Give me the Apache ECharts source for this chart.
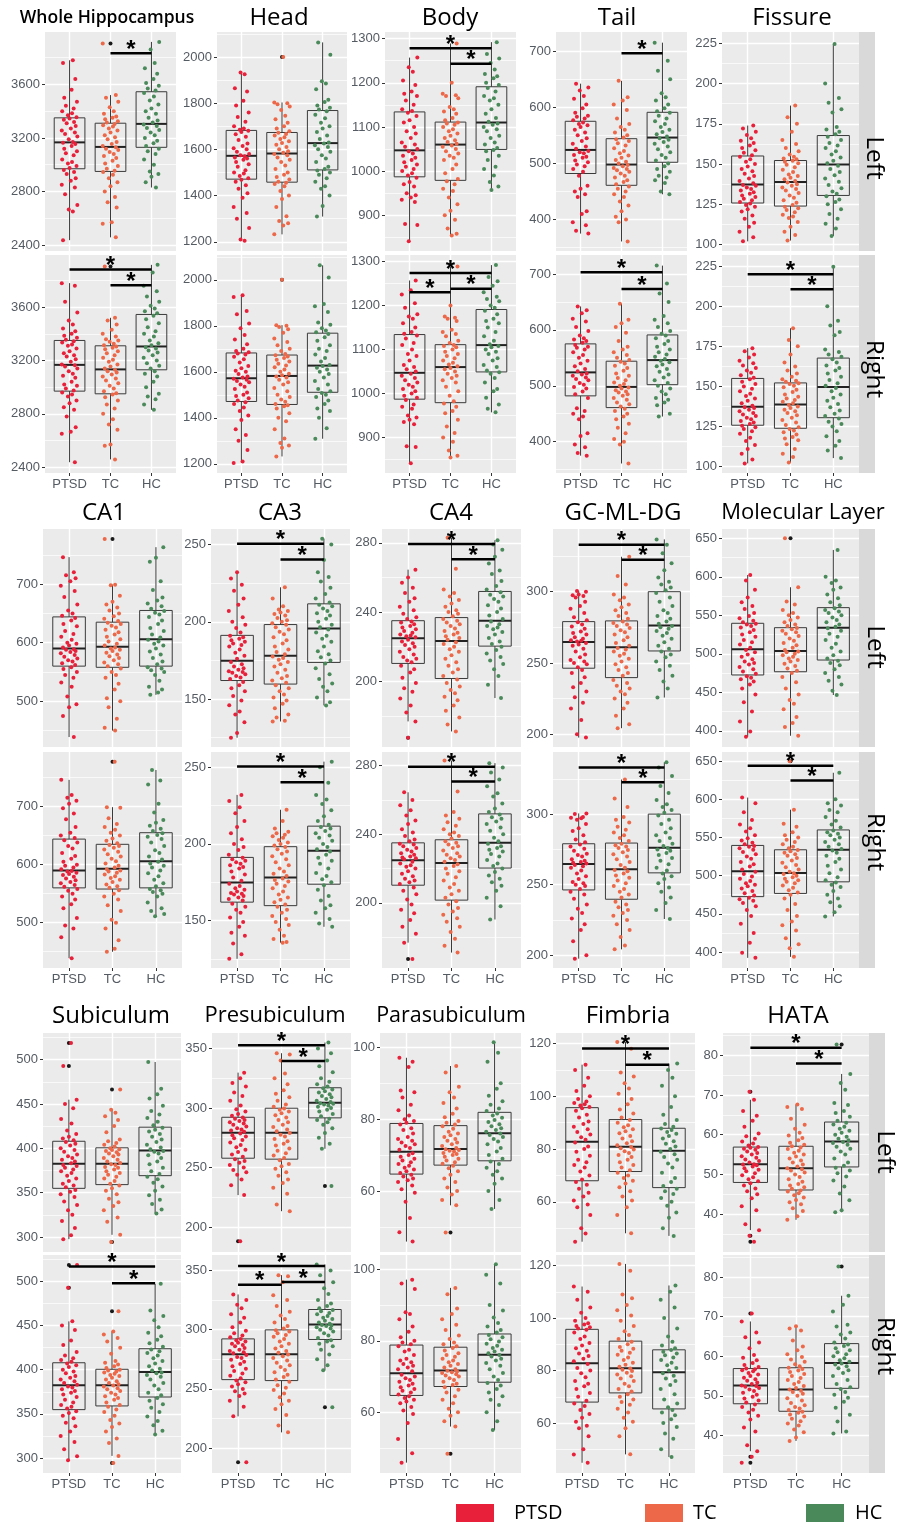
<!DOCTYPE html>
<html>
<head lang="en">
<meta http-equiv="Content-Type" content="text/html; charset=UTF-8">
<script src="https://cdn.jsdelivr.net/npm/echarts@6.0.0/dist/echarts.min.js"></script>
<style>
html, body { margin: 0; padding: 0; background: #fff; }
#chart { width: 907px; height: 1524px; }
</style>
</head>
<body>
<div id="chart"></div>
<script>
/**======= groups =======**/
var groups = ['PTSD', 'TC', 'HC'];
var groupColors = ['#E8203A', '#EC6848', '#4A8A5A'];

/**======= Whole Hippocampus =======**/
var wholeBox = [[2437, 2970, 3167, 3350, 3780], [2458, 2950, 3133, 3310, 3520], [2830, 3130, 3305, 3545, 3917]];
var wholePTSD = [2437, 2650, 2665, 2700, 2780, 2830, 2850, 2880, 2900, 2930, 2945, 2960, 2975, 2990, 3010, 3020, 3040, 3070, 3085, 3100, 3120, 3140, 3155, 3165,
  3170, 3190, 3210, 3230, 3240, 3255, 3270, 3290, 3310, 3320, 3335, 3345, 3355, 3370, 3385, 3400, 3420, 3440, 3470, 3500, 3560, 3640, 3760, 3780];
var wholeTC = [2458, 2560, 2570, 2680, 2720, 2760, 2800, 2840, 2870, 2900, 2925, 2945, 2955, 2970, 2990, 3010, 3030, 3050, 3065, 3080, 3095, 3110, 3120, 3130,
  3140, 3155, 3170, 3190, 3205, 3220, 3240, 3255, 3270, 3285, 3295, 3305, 3315, 3325, 3340, 3350, 3360, 3380, 3400, 3430, 3470, 3500, 3520, 3905];
var wholeHC = [2830, 2870, 2910, 2930, 2950, 3000, 3040, 3080, 3100, 3120, 3140, 3160, 3180, 3200, 3220, 3240, 3260, 3275, 3290, 3300,
  3315, 3330, 3350, 3380, 3400, 3420, 3450, 3480, 3510, 3535, 3555, 3570, 3590, 3610, 3640, 3680, 3720, 3760, 3860, 3917];
var wholeOut = [[2, 3905]];
var wholeRange = [2356, 3991];
var wholeTicks = [2400, 2800, 3200, 3600];
var wholeSigL = [[2, 3, 3833]];
var wholeSigR = [[1, 3, 3883], [2, 3, 3765]];

/**======= Head =======**/
var headBox = [[1204, 1471, 1572, 1682, 1933], [1232, 1458, 1582, 1673, 1803], [1309, 1511, 1627, 1768, 2063]];
var headPTSD = [1204, 1210, 1260, 1300, 1325, 1350, 1390, 1410, 1430, 1445, 1460, 1468, 1475, 1485, 1495, 1500, 1510, 1525, 1535, 1545, 1555, 1560, 1565, 1570,
  1575, 1580, 1590, 1600, 1605, 1615, 1625, 1640, 1655, 1665, 1675, 1680, 1685, 1690, 1700, 1720, 1740, 1760, 1790, 1810, 1850, 1865, 1925, 1933];
var headTC = [1232, 1270, 1280, 1290, 1310, 1350, 1385, 1400, 1420, 1440, 1450, 1455, 1460, 1470, 1480, 1490, 1500, 1515, 1530, 1545, 1555, 1565, 1575, 1580,
  1585, 1592, 1600, 1610, 1620, 1628, 1635, 1645, 1652, 1660, 1667, 1672, 1678, 1690, 1700, 1715, 1730, 1745, 1770, 1785, 1795, 1800, 1803, 2000];
var headHC = [1309, 1355, 1400, 1430, 1440, 1460, 1475, 1490, 1500, 1508, 1515, 1525, 1545, 1560, 1575, 1590, 1600, 1610, 1618, 1625,
  1630, 1645, 1660, 1675, 1690, 1700, 1715, 1735, 1750, 1765, 1772, 1780, 1790, 1805, 1815, 1860, 1885, 1895, 2010, 2063];
var headOut = [[2, 2000]];
var headRange = [1160, 2108];
var headTicks = [1200, 1400, 1600, 1800, 2000];
var headSigL = [];
var headSigR = [];

/**======= Body =======**/
var bodyBox = [[841, 987, 1047, 1134, 1257], [854, 979, 1060, 1111, 1289], [957, 1049, 1110, 1191, 1292]];
var bodyPTSD = [841, 878, 880, 930, 935, 940, 945, 950, 965, 970, 975, 985, 990, 995, 1000, 1005, 1010, 1015, 1020, 1025, 1030, 1035, 1040, 1045,
  1050, 1055, 1060, 1065, 1075, 1085, 1090, 1100, 1110, 1115, 1125, 1132, 1136, 1140, 1150, 1160, 1170, 1175, 1180, 1195, 1205, 1225, 1235, 1257];
var bodyTC = [854, 858, 870, 890, 900, 910, 925, 940, 955, 960, 970, 977, 982, 995, 1005, 1015, 1025, 1030, 1035, 1040, 1045, 1050, 1055, 1058,
  1062, 1066, 1070, 1075, 1080, 1085, 1090, 1095, 1100, 1105, 1108, 1110, 1115, 1120, 1130, 1135, 1140, 1145, 1165, 1170, 1172, 1175, 1200, 1289];
var bodyHC = [957, 965, 975, 990, 1005, 1010, 1025, 1035, 1045, 1048, 1052, 1060, 1065, 1075, 1080, 1090, 1095, 1100, 1105, 1108,
  1112, 1120, 1130, 1140, 1150, 1160, 1165, 1170, 1180, 1188, 1195, 1200, 1210, 1215, 1220, 1230, 1245, 1255, 1265, 1292];
var bodyOut = [];
var bodyRange = [819, 1315];
var bodyTicks = [900, 1000, 1100, 1200, 1300];
var bodySigL = [[1, 3, 1278], [2, 3, 1243]];
var bodySigR = [[1, 3, 1274], [1, 2, 1230], [2, 3, 1238]];

/**======= Tail =======**/
var tailBox = [[375, 482, 524, 575, 642], [361, 461, 498, 544, 647], [445, 502, 546, 591, 715]];
var tailPTSD = [375, 380, 390, 395, 410, 415, 440, 445, 450, 455, 460, 478, 485, 490, 495, 498, 502, 505, 510, 512, 515, 518, 520, 522,
  526, 530, 535, 540, 545, 550, 555, 560, 565, 568, 570, 573, 577, 580, 583, 585, 590, 598, 605, 615, 620, 630, 635, 642];
var tailTC = [361, 395, 400, 405, 415, 425, 432, 440, 445, 450, 455, 459, 463, 467, 470, 475, 478, 482, 485, 488, 490, 492, 495, 497,
  500, 503, 506, 510, 514, 518, 522, 527, 532, 536, 540, 543, 546, 550, 555, 560, 565, 570, 580, 595, 605, 612, 618, 647];
var tailHC = [445, 450, 465, 470, 475, 478, 485, 490, 495, 500, 505, 510, 515, 520, 525, 530, 535, 538, 542, 545,
  548, 552, 556, 560, 565, 570, 575, 580, 585, 590, 593, 598, 605, 612, 618, 625, 650, 665, 683, 715];
var tailOut = [];
var tailRange = [344, 734];
var tailTicks = [400, 500, 600, 700];
var tailSigL = [[2, 3, 696]];
var tailSigR = [[1, 3, 703], [2, 3, 673]];

/**======= Fissure =======**/
var fissureBox = [[102, 125.8, 137.3, 155, 173.9], [102.5, 123.9, 138.8, 152.2, 186.3], [105.3, 130.5, 149.7, 167.7, 224.6]];
var fissurePTSD = [102, 104.5, 108, 111, 113.5, 116, 118, 120.5, 122, 123.5, 124.5, 125.5, 126.5, 127.5, 128.5, 129.5, 130.5, 131.5, 132.5, 133.5, 134.5, 135.5, 136.5, 137,
  138, 139.5, 141, 142.5, 144, 145.5, 147, 148.5, 150, 151.5, 153, 154.5, 155.5, 157, 158.5, 160, 161.5, 163, 164.5, 166, 168, 170, 172, 173.9];
var fissureTC = [102.5, 106, 108, 111, 114, 116.5, 117.5, 118.5, 120, 121.5, 122.5, 123.5, 124.5, 126, 127.5, 129, 130.5, 132, 133.5, 134.5, 135.5, 136.5, 137.5, 138.5,
  139.5, 140.5, 141.5, 142.5, 143.5, 145, 146.5, 148, 149.5, 150.5, 151.5, 152, 153, 153.5, 154.5, 156, 158, 160, 162.5, 165, 170, 175, 179, 186.3];
var fissureHC = [105.3, 110, 113, 116, 119, 122, 125, 126.5, 128, 130, 131.5, 133, 135, 137, 139, 141, 143, 145, 147, 149,
  150.5, 152, 154, 156, 158, 160, 161.5, 163, 165, 167, 168.5, 170, 171.5, 173, 182, 184, 188, 191, 200, 224.6];
var fissureOut = [];
var fissureRange = [96, 232];
var fissureTicks = [100, 125, 150, 175, 200, 225];
var fissureSigL = [];
var fissureSigR = [[1, 3, 220], [2, 3, 210.7]];

/**======= CA1 =======**/
var ca1Box = [[439, 560, 590, 644, 746], [450, 558, 593, 635, 699], [511, 560, 606, 655, 763]];
var ca1PTSD = [439, 475, 490, 495, 508, 525, 532, 540, 545, 550, 555, 558, 562, 565, 568, 570, 573, 576, 579, 582, 584, 586, 588, 589,
  592, 595, 598, 600, 605, 610, 615, 620, 628, 632, 638, 642, 646, 650, 655, 665, 678, 688, 697, 705, 710, 715, 720, 746];
var ca1TC = [450, 455, 470, 490, 500, 505, 520, 530, 540, 545, 550, 556, 560, 563, 566, 570, 574, 577, 580, 583, 586, 588, 590, 592,
  595, 598, 602, 606, 610, 614, 618, 622, 626, 629, 632, 634, 637, 641, 645, 650, 655, 660, 665, 670, 680, 698, 699, 777];
var ca1HC = [511, 515, 520, 525, 535, 545, 550, 553, 556, 558, 563, 568, 574, 580, 585, 590, 595, 598, 602, 605,
  609, 614, 620, 625, 632, 638, 644, 648, 651, 654, 658, 662, 667, 672, 677, 690, 705, 738, 745, 763];
var ca1Out = [[2, 777]];
var ca1Range = [422, 794];
var ca1Ticks = [500, 600, 700];
var ca1SigL = [];
var ca1SigR = [];

/**======= CA3 =======**/
var ca3Box = [[125, 162, 174.8, 191.2, 232], [135.5, 159.7, 178, 198.2, 222.3], [145.9, 173.7, 195.6, 211.6, 253.7]];
var ca3PTSD = [125, 128, 135, 140, 142, 146, 149, 152, 155, 157, 159, 161, 163, 164, 165, 166, 167, 167.5, 168, 169, 170, 171, 172.5, 174,
  176, 178, 180, 182, 184, 185, 186, 187, 188, 189, 190, 191, 193, 196, 198, 200, 203, 207, 211, 215, 220, 224, 228, 232];
var ca3TC = [135.5, 136, 138, 140, 144, 147, 149, 151, 153, 155, 157, 159, 160.5, 162, 163.5, 165, 167, 169, 171, 172.5, 174, 175.5, 176.5, 177.5,
  179, 180.5, 182, 184, 186, 188, 190, 192, 193.5, 195, 196.5, 198, 199, 200, 201, 202.5, 204, 205, 206, 207, 208, 210, 215, 222.3];
var ca3HC = [145.9, 148, 151, 155, 158, 160, 163, 166, 170, 173, 175, 177, 179, 181, 184, 187, 189, 191, 193, 195,
  196.5, 198, 200, 202, 204, 205.5, 207, 208.5, 210, 211, 212.5, 215, 218, 222, 226, 229, 232, 240, 250, 253.7];
var ca3Out = [];
var ca3Range = [119, 260];
var ca3Ticks = [150, 200, 250];
var ca3SigL = [[1, 3, 250.5], [2, 3, 240.3]];
var ca3SigR = [[1, 3, 250.5], [2, 3, 240.3]];

/**======= CA4 =======**/
var ca4Box = [[176.8, 210.3, 224.8, 235, 264.5], [171, 201.6, 223.2, 236.8, 283], [190.3, 220.3, 235, 251.9, 281.5]];
var ca4PTSD = [167.3, 176.8, 182, 186, 190, 194, 196, 199, 202, 205, 207, 209, 211, 212, 213, 214, 215.5, 217, 218.5, 220, 221, 222, 223, 224,
  225.5, 226, 226.5, 227, 228, 229, 230, 231, 232, 233, 234, 234.5, 236, 237, 239, 241, 243, 246, 248, 251, 254, 257, 260, 264.5];
var ca4TC = [171, 175, 179, 183, 186, 189, 191, 193, 195, 197, 199, 201, 203, 205, 207, 209, 211, 213, 215, 217, 218.5, 220, 221.5, 222.5,
  224, 225, 226, 227, 228, 229, 230.5, 232, 233, 234, 235, 236, 237.5, 239, 240, 241, 243, 245, 247, 249, 251, 253, 265, 283];
var ca4HC = [190.3, 198, 203, 207, 210, 212, 214, 216, 218, 220, 221.5, 223, 225, 227, 228.5, 230, 231, 232, 233, 234.5,
  236, 238, 240, 242, 244, 246, 247.5, 249, 250, 251.5, 253, 255, 258, 262, 264, 268, 272, 276, 279, 281.5];
var ca4Out = [[1, 167.3]];
var ca4Range = [162, 288];
var ca4Ticks = [200, 240, 280];
var ca4SigL = [[1, 3, 279.4], [2, 3, 270.5]];
var ca4SigR = [[1, 3, 279.4], [2, 3, 270.8]];

/**======= GC-ML-DG =======**/
var gcBox = [[197.6, 246.3, 264.7, 279, 300.5], [204.2, 239.7, 261, 279.5, 324.5], [225.7, 258.4, 276.2, 300, 336.7]];
var gcPTSD = [197.6, 200, 210, 218, 222, 226, 230, 233, 236, 240, 243, 245, 247, 249, 250, 251, 252, 254, 256, 258, 260, 262, 263, 264,
  265, 265.5, 266, 267, 268, 270, 271, 272, 274, 275.5, 277, 278.5, 280, 282, 285, 288, 290, 293, 296, 297, 297.5, 298, 300, 300.5];
var gcTC = [204.2, 207, 213, 218, 222, 225, 228, 230, 232, 234, 236, 238, 241, 243, 245, 247, 249, 251, 253, 255, 256.5, 258, 259.5, 260.5,
  262, 264, 266, 268, 270, 271.5, 273, 274.5, 276, 277, 278, 279, 281, 283, 285, 287, 289, 291, 294, 296, 298, 305, 311, 324.5];
var gcHC = [225.7, 232, 237, 241, 245, 248, 251, 254, 256, 258, 260, 262, 264.5, 267, 269, 271, 272.5, 274, 275, 276,
  277.5, 279, 281, 283, 285, 287, 290, 293, 296, 299, 301, 303, 305, 307, 310, 315, 320, 327, 333, 336.7];
var gcOut = [];
var gcRange = [191, 344];
var gcTicks = [200, 250, 300];
var gcSigL = [[1, 3, 333], [2, 3, 322.5]];
var gcSigR = [[1, 3, 333], [2, 3, 322.5]];

/**======= Molecular Layer =======**/
var molBox = [[392.3, 472.5, 505.8, 539.6, 602.3], [393.6, 476.7, 503.6, 533.9, 586.4], [446.5, 491.9, 533.9, 559.9, 634.8]];
var molPTSD = [392.3, 399, 412, 425, 437, 447, 455, 460, 464, 467, 469, 471, 474, 477, 480, 483, 486, 488, 490, 493, 496, 499, 502, 505,
  508, 512, 515, 518, 522, 525, 528, 531, 534, 536, 538, 539, 541, 543, 546, 549, 553, 558, 562, 567, 573, 583, 595, 602.3];
var molTC = [393.6, 405, 410, 418, 428, 435, 440, 447, 455, 463, 470, 475, 478, 481, 484, 487, 490, 492, 494, 496, 498, 500, 502, 503,
  505, 508, 511, 514, 517, 520, 523, 526, 528, 530, 532, 533.5, 536, 538, 541, 544, 547, 550, 553, 557, 564, 568, 586.4, 650];
var molHC = [446.5, 452, 460, 465, 470, 475, 480, 485, 488, 491, 494, 498, 503, 508, 513, 518, 522, 526, 530, 533,
  535, 538, 541, 544, 547, 550, 553, 555, 557, 559, 563, 567, 572, 577, 583, 586, 592, 595, 600, 634.8];
var molOut = [[2, 650]];
var molRange = [379, 662];
var molTicks = [400, 450, 500, 550, 600, 650];
var molSigL = [];
var molSigR = [[1, 3, 644], [2, 3, 624.6]];

/**======= Subiculum =======**/
var subBox = [[297.5, 354.8, 382.4, 407.9, 454.8], [302.4, 359, 382.4, 400.5, 443.4], [326.5, 369.1, 397.4, 423.8, 497.3]];
var subPTSD = [297.5, 302, 310, 318, 325, 330, 336, 340, 345, 348, 351, 353, 356, 358, 360, 363, 366, 369, 372, 374, 376, 378, 380, 381,
  383, 385, 387, 389, 391, 393, 396, 398, 400, 403, 405, 407, 409, 411, 413, 416, 420, 428, 433, 445, 450, 454.8, 492.8, 518.8];
var subTC = [294.4, 302.4, 317, 322, 330, 335, 339, 343, 348, 352, 355, 358, 360, 363, 366, 368, 370, 372, 374, 376, 378, 379, 381, 382,
  383.5, 385, 387, 389, 391, 393, 394, 395.5, 397, 398, 399, 400, 402, 404, 406, 408, 410, 418, 425, 432, 436, 440, 443.4, 466.4];
var subHC = [326.5, 331, 337, 342, 347, 352, 357, 361, 365, 368, 371, 374, 378, 382, 385, 389, 392, 394, 396, 397,
  399, 401, 404, 407, 410, 413, 416, 419, 421, 423, 426, 430, 434, 438, 442, 448, 456, 461, 467, 497.3];
var subOut = [[1, 518.8], [1, 492.8], [2, 466.4], [2, 294.4]];
var subRange = [283, 530];
var subTicks = [300, 350, 400, 450, 500];
var subSigL = [];
var subSigR = [[1, 3, 517], [2, 3, 498]];

/**======= Presubiculum =======**/
var presubBox = [[226.8, 257.8, 279.2, 292.2, 329.7], [213.3, 257, 279.2, 299.8, 346], [265.7, 291.7, 304.3, 317, 355]];
var presubPTSD = [188, 226.8, 235, 240, 244, 246, 248, 250, 252, 254, 255.5, 257, 259, 261, 263, 265, 267, 269, 271, 273, 274.5, 276, 277, 278.5,
  280, 281, 282, 283, 284.5, 286, 287, 288, 289, 290, 291, 292, 293.5, 295, 297, 299, 302, 306, 310, 313, 318, 321, 325, 329.7];
var presubTC = [213.3, 219, 228, 233, 237, 240, 243, 246, 249, 251, 253, 256, 258, 260, 262, 264, 266, 268.5, 270, 272, 274, 276, 277.5, 279,
  280.5, 282, 284, 286, 288, 290, 292, 294, 295.5, 297, 298.5, 299.5, 301, 303, 306, 309, 312, 315, 320, 325, 329, 340, 345, 346];
var presubHC = [234.4, 265.7, 270, 275, 279, 283, 286, 288, 290, 291, 293, 295, 297, 298.5, 300, 301, 302, 303, 303.5, 304,
  305, 306, 307.5, 309, 310, 311.5, 313, 314, 315.5, 316.5, 318, 320, 322, 325, 330, 335, 340, 346, 350, 355];
var presubOut = [[1, 188], [3, 234.4]];
var presubRange = [179, 363];
var presubTicks = [200, 250, 300, 350];
var presubSigL = [[1, 3, 352.8], [2, 3, 339.5]];
var presubSigR = [[1, 3, 353.7], [1, 2, 337.9], [2, 3, 340.2]];

/**======= Parasubiculum =======**/
var parasubBox = [[45.9, 64.7, 70.9, 78.8, 97.1], [56, 67.2, 71.7, 78.2, 94.8], [55, 68.4, 76.1, 81.9, 101.4]];
var parasubPTSD = [45.9, 48.5, 52.5, 57, 59.5, 60.5, 61.5, 62.5, 63, 63.5, 64, 64.5, 65, 65.5, 66, 66.5, 67, 67.5, 68, 68.5, 69, 69.5, 70, 70.5,
  71.5, 72, 72.5, 73, 73.5, 74, 74.5, 75, 76, 77, 77.5, 78.5, 79, 79.5, 80, 81, 82.5, 84, 86, 87.5, 88, 94.5, 96, 97.1];
var parasubTC = [48.4, 56, 57.5, 59, 60, 61, 62.5, 63.5, 64.5, 65.5, 66.3, 67, 67.6, 68, 68.5, 69, 69.5, 70, 70.3, 70.6, 71, 71.2, 71.4, 71.6,
  72, 72.5, 73, 73.5, 74, 74.5, 75, 75.5, 76, 76.5, 77.3, 78, 78.5, 79, 79.5, 80.5, 81.5, 83, 84.5, 86, 87.5, 89, 93, 94.8];
var parasubHC = [55, 57.5, 60, 62, 63.5, 64.5, 65.5, 66.5, 67.5, 68.2, 69, 70, 71, 72, 73, 73.8, 74.5, 75, 75.6, 76,
  76.5, 77, 77.5, 78, 78.6, 79.2, 79.8, 80.4, 81, 81.6, 82.3, 83, 84, 85, 86.5, 88.5, 90, 96, 98.5, 101.4];
var parasubOut = [[2, 48.4]];
var parasubRange = [43, 104];
var parasubTicks = [60, 80, 100];
var parasubSigL = [];
var parasubSigR = [];

/**======= Fimbria =======**/
var fimbriaBox = [[44.9, 68, 82.8, 95.7, 112], [48.1, 71.5, 80.9, 91.2, 120.6], [47.1, 65.4, 79.4, 87.9, 112.4]];
var fimbriaPTSD = [44.9, 48, 50, 55, 58, 59, 60.5, 62, 63.5, 65, 66.5, 67.5, 68.5, 70, 71.5, 73, 74, 75, 76, 77.5, 79, 80, 81, 82.5,
  83.5, 84.5, 85.5, 86.5, 87.5, 88.5, 89.5, 90.5, 92, 93, 94.5, 95.5, 96, 96.5, 97, 97.5, 98, 99, 100, 102, 104, 107, 110, 112];
var fimbriaTC = [48.1, 55, 58, 60.5, 62, 64, 65.5, 67, 68, 69, 70, 71, 72, 73, 74, 75, 76, 77, 77.8, 78.5, 79.2, 79.8, 80.3, 80.8,
  81.5, 82.2, 83, 84, 85, 86, 86.8, 87.5, 88.3, 89, 90, 91, 92, 93.5, 95, 97, 99, 101, 103, 105, 107.5, 109, 118, 120.6];
var fimbriaHC = [47.1, 50, 54, 56, 58.5, 60, 61.5, 63, 64, 65, 66, 67.5, 69, 71, 73, 74.5, 76, 77, 78, 79,
  80, 81, 82, 83, 84, 85, 85.8, 86.5, 87.2, 87.8, 88.5, 89.5, 91, 93, 96, 100, 104, 107, 110, 112.4];
var fimbriaOut = [];
var fimbriaRange = [41, 124];
var fimbriaTicks = [60, 80, 100, 120];
var fimbriaSigL = [[1, 3, 118.1], [2, 3, 112]];
var fimbriaSigR = [];

/**======= HATA =======**/
var hataBox = [[36, 48, 52.6, 56.9, 68.8], [38.6, 46.1, 51.6, 57.1, 67.6], [40.5, 51.9, 58.3, 63.2, 75.3]];
var hataPTSD = [33.1, 34.6, 36, 37.5, 41, 42, 44, 45, 45.8, 46.5, 47.2, 47.8, 48.3, 48.8, 49.3, 49.8, 50.3, 50.8, 51.2, 51.6, 52, 52.3, 52.5, 52.6,
  53, 53.4, 53.8, 54.2, 54.6, 55, 55.4, 55.8, 56.2, 56.5, 56.7, 56.9, 57.3, 57.8, 58.3, 59, 59.6, 60.3, 62, 63.5, 64.8, 66, 68.8, 70.8];
var hataTC = [38.6, 39.5, 40.8, 41.5, 42.5, 43, 43.6, 44.2, 44.8, 45.3, 45.7, 46, 46.4, 46.8, 47.2, 47.6, 48.2, 48.8, 49.4, 50, 50.5, 51, 51.3, 51.6,
  52, 52.5, 53, 53.5, 54, 54.5, 55, 55.5, 56, 56.4, 56.8, 57.1, 57.5, 58, 58.6, 59.2, 59.8, 60.5, 61.5, 62.5, 64, 66.5, 67, 67.6];
var hataHC = [40.5, 41, 43.5, 45.2, 47, 48.5, 49.5, 50.3, 51, 51.7, 52.2, 53, 54, 55, 55.8, 56.5, 57, 57.5, 57.9, 58.2,
  58.6, 59, 59.5, 60, 60.5, 61, 61.5, 62, 62.6, 63, 63.5, 64.5, 65.5, 66, 67.5, 68, 71.3, 73, 75.3, 82.7];
var hataOut = [[1, 70.8], [1, 34.6], [1, 33.1], [3, 82.7]];
var hataRange = [30.5, 85.6];
var hataTicks = [40, 50, 60, 70, 80];
var hataSigL = [[1, 3, 81.9], [2, 3, 77.9]];
var hataSigR = [];

/**======= region list =======**/
var regions = [
  {name: 'Whole Hippocampus', box: wholeBox, pts: [wholePTSD, wholeTC, wholeHC], out: wholeOut, range: wholeRange, ticks: wholeTicks, sig: [wholeSigL, wholeSigR]},
  {name: 'Head', box: headBox, pts: [headPTSD, headTC, headHC], out: headOut, range: headRange, ticks: headTicks, sig: [headSigL, headSigR]},
  {name: 'Body', box: bodyBox, pts: [bodyPTSD, bodyTC, bodyHC], out: bodyOut, range: bodyRange, ticks: bodyTicks, sig: [bodySigL, bodySigR]},
  {name: 'Tail', box: tailBox, pts: [tailPTSD, tailTC, tailHC], out: tailOut, range: tailRange, ticks: tailTicks, sig: [tailSigL, tailSigR]},
  {name: 'Fissure', box: fissureBox, pts: [fissurePTSD, fissureTC, fissureHC], out: fissureOut, range: fissureRange, ticks: fissureTicks, sig: [fissureSigL, fissureSigR]},
  {name: 'CA1', box: ca1Box, pts: [ca1PTSD, ca1TC, ca1HC], out: ca1Out, range: ca1Range, ticks: ca1Ticks, sig: [ca1SigL, ca1SigR]},
  {name: 'CA3', box: ca3Box, pts: [ca3PTSD, ca3TC, ca3HC], out: ca3Out, range: ca3Range, ticks: ca3Ticks, sig: [ca3SigL, ca3SigR]},
  {name: 'CA4', box: ca4Box, pts: [ca4PTSD, ca4TC, ca4HC], out: ca4Out, range: ca4Range, ticks: ca4Ticks, sig: [ca4SigL, ca4SigR]},
  {name: 'GC-ML-DG', box: gcBox, pts: [gcPTSD, gcTC, gcHC], out: gcOut, range: gcRange, ticks: gcTicks, sig: [gcSigL, gcSigR]},
  {name: 'Molecular Layer', box: molBox, pts: [molPTSD, molTC, molHC], out: molOut, range: molRange, ticks: molTicks, sig: [molSigL, molSigR]},
  {name: 'Subiculum', box: subBox, pts: [subPTSD, subTC, subHC], out: subOut, range: subRange, ticks: subTicks, sig: [subSigL, subSigR]},
  {name: 'Presubiculum', box: presubBox, pts: [presubPTSD, presubTC, presubHC], out: presubOut, range: presubRange, ticks: presubTicks, sig: [presubSigL, presubSigR]},
  {name: 'Parasubiculum', box: parasubBox, pts: [parasubPTSD, parasubTC, parasubHC], out: parasubOut, range: parasubRange, ticks: parasubTicks, sig: [parasubSigL, parasubSigR]},
  {name: 'Fimbria', box: fimbriaBox, pts: [fimbriaPTSD, fimbriaTC, fimbriaHC], out: fimbriaOut, range: fimbriaRange, ticks: fimbriaTicks, sig: [fimbriaSigL, fimbriaSigR]},
  {name: 'HATA', box: hataBox, pts: [hataPTSD, hataTC, hataHC], out: hataOut, range: hataRange, ticks: hataTicks, sig: [hataSigL, hataSigR]}
];

/**======= layout (px) =======**/
var sectionRows = [[[32, 251], [255, 473]], [[529, 747], [752, 968]], [[1033, 1252], [1255, 1473]]];
var sectionCols = [
  [[45, 176], [217, 347], [385, 516], [556, 687], [722, 859]],
  [[43, 182], [211, 350], [382, 521], [553, 690], [722, 859]],
  [[43, 181], [212, 351], [380, 521], [556, 695], [723, 869]]
];
var titleY = [18, 513, 1016];
var titleX = [[107, 279, 450, 617, 792], [104, 280, 451, 623, 803], [111, 275, 451, 628, 798]];
var titleSize = [[17.5, 24, 24, 24, 24], [24, 24, 24, 24, 22], [24, 22, 21.5, 24, 24]];
var stripX = [[859, 875], [859, 875], [869, 885]];
var stripTextX = [874, 875, 885];
var stripTextY = [[158, 369], [647, 842], [1152, 1346]];
var stripNames = ['Left', 'Right'];
// legend: left edge of each key and gap before its text
var legendX = [451, 640, 801];
var legendGap = [15, 5, 6];
// fixed jitter pattern (horizontal offsets, in category units)
var jit = [-0.16, 0.08, -0.02, 0.19, -0.11, 0.13, -0.19, 0.03, 0.15, -0.07, 0.11, -0.14, 0.0, 0.17, -0.04, 0.06, -0.18, 0.1, -0.09, 0.18, -0.13, 0.05, 0.14];
var labelColor = '#555b63';
var tickColor = '#333333';

function renderBox(params, api) {
  var x = api.value(0);
  var lo = api.coord([x, api.value(1)]);
  var q1 = api.coord([x, api.value(2)]);
  var md = api.coord([x, api.value(3)]);
  var q3 = api.coord([x, api.value(4)]);
  var hi = api.coord([x, api.value(5)]);
  var hw = api.size([0.375, 0])[0];
  var st = {stroke: '#3a3a3a', lineWidth: 1, fill: null};
  return {type: 'group', children: [
    {type: 'line', shape: {x1: lo[0], y1: lo[1], x2: q1[0], y2: q1[1]}, style: st},
    {type: 'line', shape: {x1: q3[0], y1: q3[1], x2: hi[0], y2: hi[1]}, style: st},
    {type: 'rect', shape: {x: q1[0] - hw, y: q3[1], width: 2 * hw, height: q1[1] - q3[1]}, style: st},
    {type: 'line', shape: {x1: md[0] - hw, y1: md[1], x2: md[0] + hw, y2: md[1]}, style: {stroke: '#222', lineWidth: 2}}
  ]};
}

// significance bar with a star over its middle
function renderSig(params, api) {
  var a = api.coord([api.value(0), api.value(2)]);
  var b = api.coord([api.value(1), api.value(2)]);
  return {type: 'group', children: [
    {type: 'line', shape: {x1: a[0], y1: a[1], x2: b[0], y2: b[1]}, style: {stroke: '#000', lineWidth: 2.5}},
    {type: 'text', x: (a[0] + b[0]) / 2, y: a[1] - 3, style: {text: '*', fill: '#000', font: 'bold 24px "Liberation Sans"', align: 'center', verticalAlign: 'middle'}}
  ]};
}

function build(withLegend) {
  var grids = [], xAxes = [], yAxes = [], series = [], graphics = [];
  var g = 0;
  for (var s = 0; s < 3; s++) {
    for (var c = 0; c < 5; c++) {
      graphics.push({type: 'text', x: titleX[s][c], y: titleY[s], z: 10,
        style: {text: regions[s * 5 + c].name, fill: '#000', align: 'center', verticalAlign: 'middle',
          font: (s === 0 && c === 0 ? '600 ' : '500 ') + titleSize[s][c] + 'px "Open Sans"'}});
    }
    for (var r = 0; r < 2; r++) {
      var top = sectionRows[s][r][0], bottom = sectionRows[s][r][1];
      graphics.push({type: 'rect', shape: {x: stripX[s][0], y: top, width: stripX[s][1] - stripX[s][0], height: bottom - top}, style: {fill: '#D9D9D9'}, z: 1});
      graphics.push({type: 'text', x: stripTextX[s], y: stripTextY[s][r], rotation: -Math.PI / 2, z: 10,
        style: {text: stripNames[r], fill: '#000', align: 'center', verticalAlign: 'middle', font: '500 24.5px "Open Sans"'}});
      for (var c2 = 0; c2 < 5; c2++) {
        var reg = regions[s * 5 + c2];
        var col = sectionCols[s][c2];
        var step = reg.ticks[1] - reg.ticks[0];
        grids.push({left: col[0], top: top, width: col[1] - col[0], height: bottom - top, show: true, backgroundColor: '#EBEBEB', borderWidth: 0});
        xAxes.push({gridIndex: g, type: 'value', min: 0.4, max: 3.6, axisLine: {show: false},
          axisTick: {show: r === 1, length: 3, customValues: [1, 2, 3], lineStyle: {color: tickColor}},
          axisLabel: {show: r === 1, customValues: [1, 2, 3], margin: 5, color: labelColor, fontSize: 13, fontFamily: 'Liberation Sans',
            formatter: function (v) { return groups[Math.round(v) - 1] || ''; }},
          splitLine: {show: true, lineStyle: {color: '#FFFFFF', width: 1.4}}});
        yAxes.push({gridIndex: g, type: 'value', min: reg.range[0], max: reg.range[1],
          minInterval: step, maxInterval: step, axisLine: {show: false},
          axisTick: {show: true, length: 3, customValues: reg.ticks, lineStyle: {color: tickColor}},
          axisLabel: {show: true, customValues: reg.ticks, margin: 5, color: labelColor, fontSize: 13, fontFamily: 'Liberation Sans',
            formatter: function (v) { return String(v); }},
          splitLine: {show: true, lineStyle: {color: '#FFFFFF', width: 1.4}},
          minorTick: {show: false, splitNumber: 2},
          minorSplitLine: {show: true, lineStyle: {color: '#FFFFFF', width: 0.7}}});
        series.push({type: 'custom', xAxisIndex: g, yAxisIndex: g, z: 2, renderItem: renderBox,
          data: reg.box.map(function (b, i) { return [i + 1].concat(b); })});
        series.push({type: 'scatter', xAxisIndex: g, yAxisIndex: g, z: 3, symbolSize: 4,
          itemStyle: {color: '#1a1a1a', opacity: 1},
          data: reg.out.map(function (o) { return [o[0], o[1]]; })});
        for (var k = 0; k < 3; k++) {
          series.push({type: 'scatter', name: groups[k], xAxisIndex: g, yAxisIndex: g, z: 4, symbolSize: 4,
            itemStyle: {color: groupColors[k], opacity: 1},
            data: reg.pts[k].map((function (kk, gg) {
              return function (v, j) { return [kk + 1 + jit[(j + kk * 5 + gg) % jit.length], v]; };
            })(k, g))});
        }
        series.push({type: 'custom', xAxisIndex: g, yAxisIndex: g, z: 5, renderItem: renderSig, data: reg.sig[r]});
        g++;
      }
    }
  }
  var opt = {animation: false, backgroundColor: '#FFFFFF', grid: grids, xAxis: xAxes, yAxis: yAxes, series: series, graphic: graphics};
  if (withLegend) {
    opt.legend = groups.map(function (name, i) {
      return {data: [name], left: legendX[i], top: 1498, icon: 'rect', itemWidth: 38, itemHeight: 18,
        textStyle: {fontSize: 20, color: '#000', fontFamily: 'Open Sans', padding: [0, 0, 0, legendGap[i]]}};
    });
  }
  return opt;
}

var myChart = echarts.init(document.getElementById('chart'));
try {
  myChart.setOption(build(true));
} catch (e) {
  myChart.dispose();
  myChart = echarts.init(document.getElementById('chart'));
  myChart.setOption(build(false));
}
</script>
</body>
</html>
